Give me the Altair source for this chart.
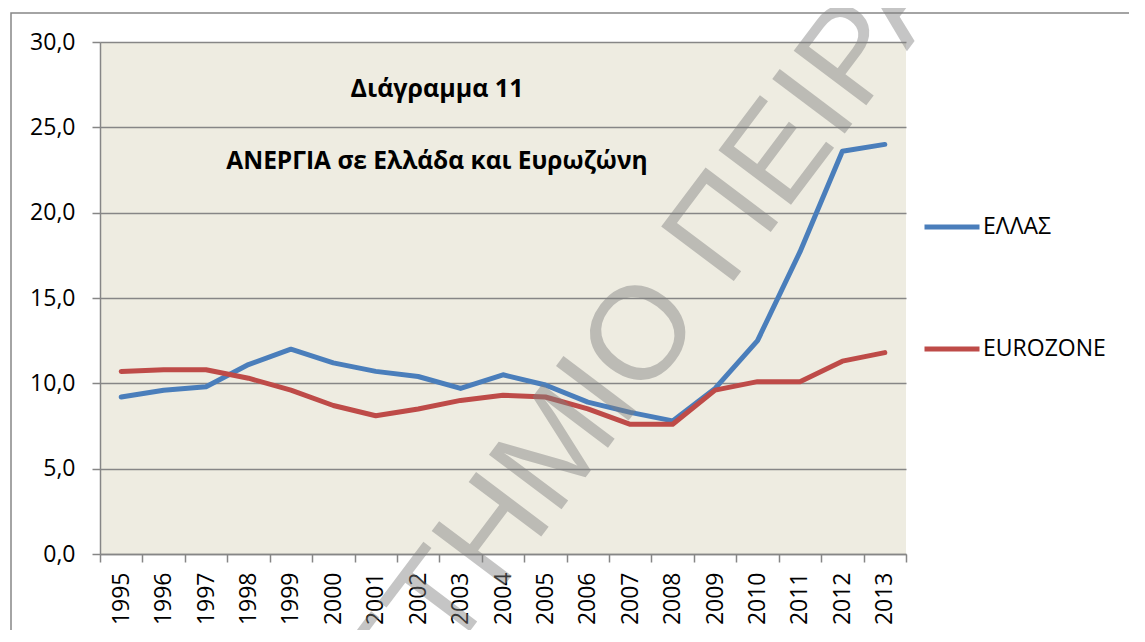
import altair as alt
import pandas as pd

years = [str(y) for y in range(1995, 2014)]
ellas = [9.2, 9.6, 9.8, 11.1, 12.0, 11.2, 10.7, 10.4, 9.7, 10.5, 9.9, 8.9, 8.3, 7.8, 9.7, 12.5, 17.7, 23.6, 24.0]
eurozone = [10.7, 10.8, 10.8, 10.3, 9.6, 8.7, 8.1, 8.5, 9.0, 9.3, 9.2, 8.5, 7.6, 7.6, 9.6, 10.1, 10.1, 11.3, 11.8]
series_names = ["ΕΛΛΑΣ", "EUROZONE"]
series_colors = ["#4A7EBB", "#BE4B48"]
y_ticks = [0, 5, 10, 15, 20, 25, 30]
title1 = "Διάγραμμα 11"
title2 = "ΑΝΕΡΓΙΑ σε Ελλάδα και Ευρωζώνη"
watermark = "ΠΑΝΕΠΙΣΤΗΜΙΟ ΠΕΙΡΑΙΩΣ"

rows = []
for i, y in enumerate(years):
    rows.append({"year": y, "series": series_names[0], "value": ellas[i], "ord": 0})
for i, y in enumerate(years):
    rows.append({"year": y, "series": series_names[1], "value": eurozone[i], "ord": 1})
df = pd.DataFrame(rows)

FONT = "Open Sans"
GRAY = "#868686"

lines = alt.Chart(df).mark_line(strokeWidth=5, strokeCap="round", strokeJoin="round").encode(
    x=alt.X("year:O", bandPosition=0.5,
            scale=alt.Scale(type="band", paddingInner=0, paddingOuter=0),
            axis=alt.Axis(title=None, labelAngle=270, labelAlign="right", labelBaseline="middle",
                          tickBand="extent", tickSize=8, tickColor=GRAY, tickWidth=1.5,
                          domainColor=GRAY, domainWidth=1.5, labelPadding=10,
                          labelFont=FONT, labelFontSize=23, labelColor="black", grid=False)),
    y=alt.Y("value:Q", scale=alt.Scale(domain=[0, 30], nice=False, zero=True),
            axis=alt.Axis(title=None, values=y_ticks,
                          labelExpr="replace(format(datum.value, '.1f'), '.', ',')",
                          tickSize=8, tickColor=GRAY, tickWidth=1.5,
                          domainColor=GRAY, domainWidth=1.5, labelPadding=17,
                          labelFont=FONT, labelFontSize=23, labelColor="black",
                          grid=True, gridColor=GRAY, gridWidth=1.5)),
    color=alt.Color("series:N", sort=series_names,
                    scale=alt.Scale(domain=series_names, range=series_colors),
                    legend=alt.Legend(title=None, orient="none", legendX=822, legendY=155,
                                      symbolType="stroke", symbolSize=3025, symbolStrokeWidth=5,
                                      labelFont=FONT, labelFontSize=23, labelColor="black",
                                      labelOffset=1, rowPadding=80, padding=0)),
    order=alt.Order("ord:Q"),
    detail="series:N",
)

t1 = alt.Chart(pd.DataFrame({"t": [title1]})).mark_text(
    font=FONT, fontSize=25, fontWeight="bold", color="black", align="center", baseline="middle"
).encode(text="t:N", x=alt.value(337), y=alt.value(47))

t2 = alt.Chart(pd.DataFrame({"t": [title2]})).mark_text(
    font=FONT, fontSize=24.5, fontWeight="bold", color="black", align="center", baseline="middle"
).encode(text="t:N", x=alt.value(337), y=alt.value(120))

border = alt.Chart(pd.DataFrame({"a": [0]})).mark_rect(
    fill="transparent", stroke=GRAY, strokeWidth=1.5
).encode(x=alt.value(-89), x2=alt.value(1200), y=alt.value(-29), y2=alt.value(800))

wm = alt.Chart(pd.DataFrame({"t": [watermark]})).mark_text(
    font="Liberation Sans", fontSize=132, color="#808080", opacity=0.45,
    align="left", baseline="middle", angle=307
).encode(text="t:N", x=alt.value(-32), y=alt.value(1056))

chart = alt.layer(border, lines, t1, t2, wm).properties(
    width=806, height=512,
    autosize=alt.AutoSizeParams(type="none"),
    padding={"left": 92, "top": 34, "right": 223, "bottom": 76},
    background="white",
).configure_view(fill="#EEECE1", stroke=None)

chart.save("out.html", embed_options={"renderer": "svg", "actions": False})
